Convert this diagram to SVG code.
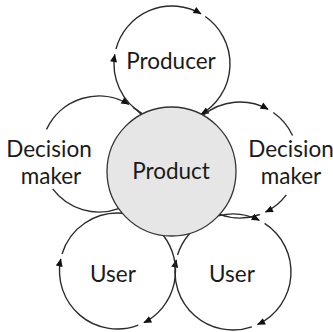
<svg xmlns="http://www.w3.org/2000/svg" width="333" height="332" viewBox="0 0 333 332">
<style>
.arc{fill:none;stroke:#2b2b2b;stroke-width:1.4}
.arr{marker-end:url(#ah)}
.lbl{font-family:Lato,"Open Sans","DejaVu Sans",sans-serif;font-size:22.5px;fill:#1a1a1a;text-anchor:middle}
.prod{fill:#e6e6e6;stroke:#333;stroke-width:1.3}
</style>
<defs>
<marker id="ah" viewBox="-9 -4.5 10 9" refX="0" refY="0" markerWidth="10" markerHeight="9" orient="auto" markerUnits="userSpaceOnUse">
<path d="M0.5,0 L-7.5,-3.5 L-7.5,3.5 Z" fill="#111"/>
</marker>
</defs>
<rect width="333" height="332" fill="#fff"/>
<g id="connectors">
<path class="arc arr" d="M115.98,48.99 A58,58 0 0 1 201,13.77"/>
<path class="arc arr" d="M205.27,16.49 A58,58 0 0 1 201.09,114.18"/>
<path class="arc arr" d="M142.48,113.92 A58,58 0 0 1 114.79,54.43"/>
<path class="arc arr" d="M46.43,129.49 A58,58 0 0 1 128.87,104.28"/>
<path class="arc" d="M133.09,107.08 A58,58 0 0 1 141.42,114.44"/>
<path class="arc" d="M118.74,208.54 A58,58 0 0 1 52.68,188.90"/>
<path class="arc arr" d="M203.11,115.25 A58,58 0 0 1 268.12,109.27"/>
<path class="arc" d="M273.27,112.49 A58,58 0 0 1 292.57,135.49"/>
<path class="arc arr" d="M286.32,194.90 A58,58 0 0 1 265.43,212.13"/>
<path class="arc" d="M259.84,214.50 A58,58 0 0 1 219.69,214.33"/>
<path class="arc arr" d="M218.28,215.90 A58,58 0 0 1 259.33,220.32"/>
<path class="arc arr" d="M264.59,223.36 A58,58 0 0 1 257.51,324.57"/>
<path class="arc arr" d="M251.88,326.84 A58,58 0 0 1 176.27,259.94"/>
<path class="arc" d="M177.53,255.04 A58,58 0 0 1 189.70,233.42"/>
<path class="arc" d="M62.03,254.04 A58,58 0 0 1 122.25,213.20"/>
<path class="arc arr" d="M163.39,235.53 A58,58 0 0 1 143.83,322.68"/>
<path class="arc arr" d="M138.29,325.15 A58,58 0 0 1 60.77,258.94"/>
</g>
<g id="product">
<circle class="prod" cx="171.5" cy="171.5" r="64.5"/>
<text class="lbl" x="171" y="179">Product</text>
</g>
<g id="producer">
<text class="lbl" x="171" y="69">Producer</text>
</g>
<g id="decision-maker-left">
<text class="lbl" x="49" y="157">Decision</text>
<text class="lbl" x="51" y="184">maker</text>
</g>
<g id="decision-maker-right">
<text class="lbl" x="291" y="157">Decision</text>
<text class="lbl" x="291" y="184">maker</text>
</g>
<g id="user-left">
<text class="lbl" x="113" y="282">User</text>
</g>
<g id="user-right">
<text class="lbl" x="232" y="282">User</text>
</g>
</svg>
